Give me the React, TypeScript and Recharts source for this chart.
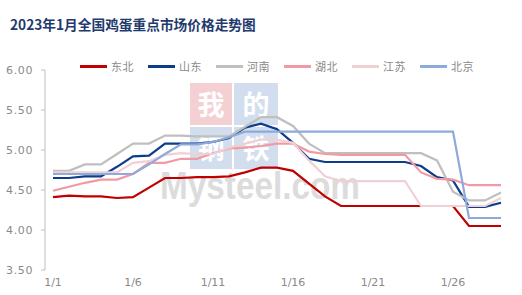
import React from "react";
import { LineChart, Line, XAxis, YAxis } from "recharts";

const dates = [
  "1/1", "1/2", "1/3", "1/4", "1/5", "1/6", "1/7", "1/8", "1/9", "1/10",
  "1/11", "1/12", "1/13", "1/14", "1/15", "1/16", "1/17", "1/18", "1/19", "1/20",
  "1/21", "1/22", "1/23", "1/24", "1/25", "1/26", "1/27", "1/28", "1/29",
];

// 元/斤
const dongbei = [4.41, 4.43, 4.42, 4.42, 4.4, 4.41, 4.53, 4.65, 4.65, 4.66, 4.66, 4.67, 4.72, 4.78, 4.78, 4.74, 4.58, 4.42, 4.3, 4.3, 4.3, 4.3, 4.3, 4.3, 4.3, 4.3, 4.05, 4.05, 4.05];
const shandong = [4.65, 4.65, 4.67, 4.67, 4.79, 4.92, 4.93, 5.08, 5.08, 5.08, 5.1, 5.15, 5.28, 5.33, 5.26, 5.09, 4.89, 4.85, 4.85, 4.85, 4.85, 4.85, 4.85, 4.8, 4.66, 4.62, 4.29, 4.29, 4.34];
const henan = [4.74, 4.74, 4.82, 4.82, 4.95, 5.08, 5.08, 5.18, 5.18, 5.17, 5.17, 5.17, 5.29, 5.41, 5.41, 5.3, 5.08, 4.96, 4.96, 4.96, 4.96, 4.96, 4.96, 4.96, 4.87, 4.48, 4.37, 4.37, 4.47];
const hubei = [4.49, 4.54, 4.59, 4.63, 4.63, 4.7, 4.84, 4.84, 4.89, 4.89, 4.96, 5.02, 5.03, 5.05, 5.08, 5.08, 4.98, 4.95, 4.94, 4.94, 4.94, 4.94, 4.94, 4.72, 4.64, 4.63, 4.56, 4.56, 4.56];
const jiangsu = [4.72, 4.72, 4.72, 4.72, 4.72, 4.84, 4.86, 4.94, 4.96, 4.95, 4.95, 5.03, 5.08, 5.13, 5.13, 5.09, 4.87, 4.67, 4.61, 4.61, 4.61, 4.61, 4.61, 4.3, 4.3, 4.3, 4.3, 4.3, 4.4];
const beijing = [4.7, 4.7, 4.7, 4.7, 4.7, 4.7, 4.82, 4.95, 5.07, 5.07, 5.1, 5.16, 5.23, 5.23, 5.23, 5.23, 5.23, 5.23, 5.23, 5.23, 5.23, 5.23, 5.23, 5.23, 5.23, 5.23, 4.15, 4.15, 4.15];

const yTicks = [3.5, 4, 4.5, 5, 5.5, 6];
const xTickIdx = [0, 5, 10, 15, 20, 25];

const series = [
  { name: "东北", values: dongbei, color: "#C00000" },
  { name: "山东", values: shandong, color: "#0C3C8C" },
  { name: "河南", values: henan, color: "#BFBFBF" },
  { name: "湖北", values: hubei, color: "#F29AA4" },
  { name: "江苏", values: jiangsu, color: "#F0D0D4" },
  { name: "北京", values: beijing, color: "#8EA9DB" },
];

const data = dates.map((d, i) => {
  const row: Record<string, number | string> = { pos: i + 0.5, date: d };
  series.forEach((s) => {
    row[s.name] = s.values[i];
  });
  return row;
});

const axisText = { fill: "#8a8a8a", fontSize: 11, fontFamily: "DejaVu Sans" };

// watermark blocks: [char, x, y, w, fill]
const marks: [string, number, number, number, string][] = [
  ["我", 190, 83, 42, "#F5D0D3"],
  ["的", 234, 83, 44, "#D2DEEE"],
  ["钢", 190, 127, 42, "#D2DEEE"],
  ["铁", 234, 127, 44, "#D2DEEE"],
];

function Watermark() {
  const cjk = "'Noto Sans CJK SC', sans-serif";
  return (
    <svg width={522} height={295} style={{ position: "absolute", left: 0, top: 0 }}>
      {marks.map(([ch, x, y, w, fill]) => (
        <g key={ch}>
          <rect x={x} y={y} width={w} height={42} fill={fill} />
          <text
            x={x + w / 2}
            y={y + 20}
            textAnchor="middle"
            dominantBaseline="central"
            fontSize={27}
            fontWeight={700}
            fill="#fff"
            fontFamily={cjk}
          >
            {ch}
          </text>
        </g>
      ))}
      <text
        x={160}
        y={199}
        fontSize={38}
        fontWeight={700}
        fill="#DCDCDC"
        fontFamily="'Liberation Sans', Arial, sans-serif"
        textLength={200}
        lengthAdjust="spacingAndGlyphs"
      >
        Mysteel.com
      </text>
    </svg>
  );
}

function LegendRow() {
  return (
    <div
      style={{
        position: "absolute",
        left: 80,
        top: 59,
        display: "flex",
        alignItems: "center",
        fontFamily: "'Noto Sans CJK SC', sans-serif",
        fontSize: 11,
        color: "#8a8a8a",
        lineHeight: "14px",
      }}
    >
      {series.map((s) => (
        <div key={s.name} style={{ display: "flex", alignItems: "center", width: 68 }}>
          <span style={{ display: "inline-block", width: 27, height: 3, background: s.color, marginRight: 4 }} />
          <span style={{ letterSpacing: 0.5 }}>{s.name}</span>
        </div>
      ))}
    </div>
  );
}

export default function App() {
  return (
    <div
      style={{
        position: "absolute",
        left: 0,
        top: 0,
        width: 522,
        height: 295,
        background: "#fff",
        overflow: "hidden",
      }}
    >
      <Watermark />
      <div
        style={{
          position: "absolute",
          left: 10,
          top: 14,
          fontFamily: "'Noto Sans CJK SC', sans-serif",
          fontWeight: 700,
          fontSize: 13.7,
          color: "#1F3A6E",
          whiteSpace: "nowrap",
        }}
      >
        2023年1月全国鸡蛋重点市场价格走势图
      </div>
      <LegendRow />
      <div style={{ position: "absolute", left: 0, top: 0 }}>
        <LineChart
          width={522}
          height={295}
          data={data}
          margin={{ top: 70, right: 13, bottom: 0, left: 0 }}
        >
          <XAxis
            xAxisId="t"
            type="number"
            dataKey="pos"
            domain={[0, 29]}
            ticks={xTickIdx}
            tick={false}
            tickSize={4}
            height={0}
            stroke="#BFBFBF"
            allowDataOverflow
          />
          <XAxis
            xAxisId="lbl"
            type="number"
            dataKey="pos"
            domain={[0, 29]}
            ticks={xTickIdx.map((i) => i + 0.5)}
            tickFormatter={(v) => dates[Math.floor(Number(v))]}
            interval={0}
            axisLine={false}
            tickLine={false}
            height={25}
            tick={axisText}
            allowDataOverflow
          />
          <YAxis
            type="number"
            domain={[3.5, 6]}
            ticks={yTicks}
            tickFormatter={(v) => Number(v).toFixed(2)}
            width={45}
            tickSize={4}
            tickMargin={8}
            stroke="#BFBFBF"
            tick={{ ...axisText, letterSpacing: 0.6 }}
            interval={0}
          />
          {series.map((s) => (
            <Line
              key={s.name}
              xAxisId="t"
              type="linear"
              dataKey={s.name}
              stroke={s.color}
              strokeWidth={2.2}
              dot={false}
              activeDot={false}
              isAnimationActive={false}
            />
          ))}
        </LineChart>
      </div>
    </div>
  );
}
